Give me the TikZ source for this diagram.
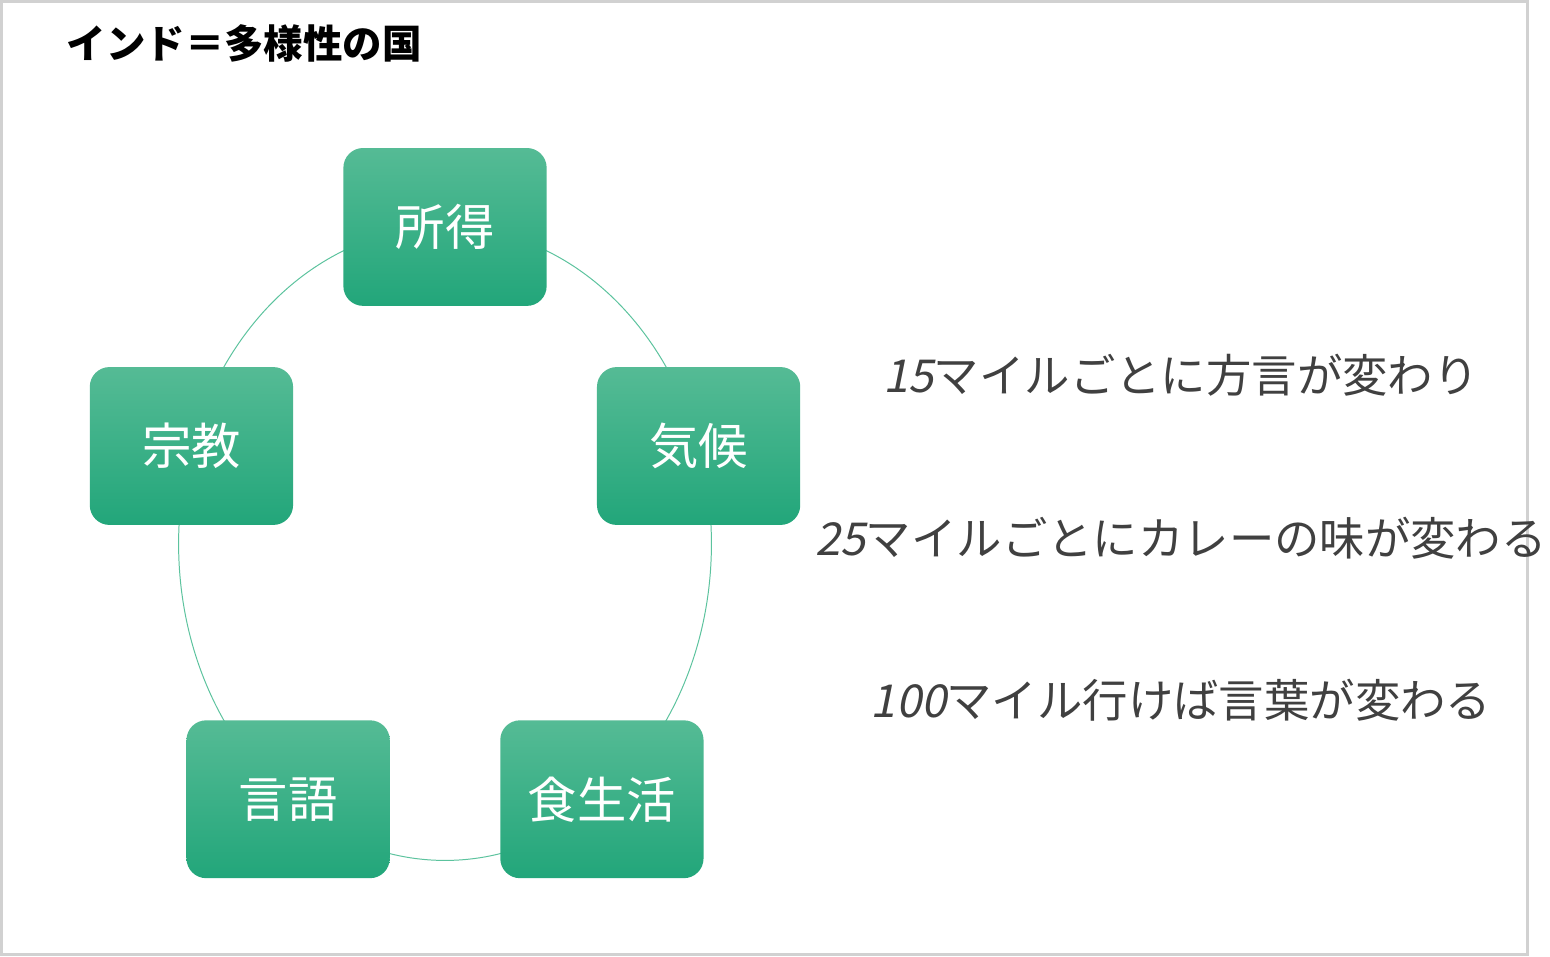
\documentclass[tikz,border=0pt]{standalone}
\usepackage{fontspec}
\setmainfont{Noto Sans CJK JP}
\newfontfamily\numit[FakeSlant=0.2]{Noto Sans CJK JP}
\usetikzlibrary{positioning}
\definecolor{boxtop}{HTML}{55BB95}
\definecolor{boxbot}{HTML}{22A67A}
\definecolor{ringcol}{HTML}{5CC39E}
\definecolor{txtgray}{HTML}{404040}
\begin{document}
\begin{tikzpicture}[x=1pt,y=-1pt,
  topic/.style={rounded corners=20pt, minimum width=206pt, minimum height=160pt,
    top color=boxtop, bottom color=boxbot, draw=none, text=white,
    font=\fontsize{50}{56}\selectfont},
  fact/.style={text=txtgray, font=\fontsize{46}{52}\selectfont},
  ring/.style={draw=ringcol, line width=1pt}]

% frame
\draw[draw=black!18, line width=3pt, fill=white] (1.5,1.5) rectangle (1548.5,967.5);

% title
\node[anchor=west, font=\fontsize{40}{46}\selectfont\bfseries] (title) at (64,44) {インド＝多様性の国};

% ring
\draw[ring] (451,551) ellipse [x radius=270, y radius=321];

% topics
\node[topic] (income) at (451,230) {所得};
\node[topic] (climate) at (708,452) {気候};
\node[topic] (food) at (610,810) {食生活};
\node[topic] (lang) at (292,810) {言語};
\node[topic] (relig) at (194,452) {宗教};

% facts
\node[fact] (fa) at (1197,380) {{\numit 15}マイルごとに方言が変わり};
\node[fact] (fb) at (1197,545) {{\numit 25}マイルごとにカレーの味が変わる};
\node[fact] (fc) at (1197,710) {{\numit 100}マイル行けば言葉が変わる};
\end{tikzpicture}
\end{document}
